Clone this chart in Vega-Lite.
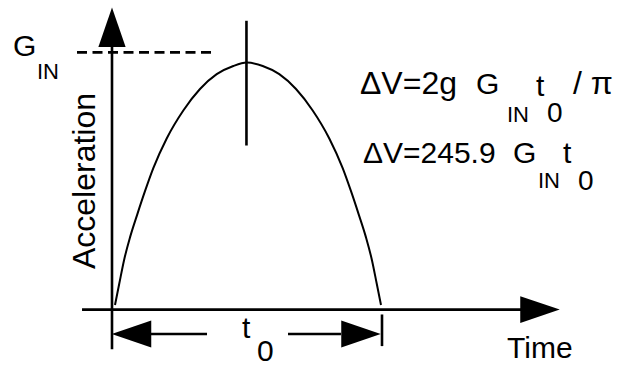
{
  "$schema": "https://vega.github.io/schema/vega-lite/v6.json",
  "width": 628,
  "height": 367,
  "autosize": {"type": "fit", "contains": "padding"},
  "padding": 0,
  "background": "white",
  "config": {"view": {"stroke": null}, "font": "Liberation Sans"},
  "datasets": {
    "curve": [
      {"t": 0.0111, "a": 0.0181},
      {"t": 0.0270, "a": 0.1012},
      {"t": 0.0444, "a": 0.1912},
      {"t": 0.0667, "a": 0.2808},
      {"t": 0.0937, "a": 0.3704},
      {"t": 0.1222, "a": 0.4604},
      {"t": 0.1530, "a": 0.55},
      {"t": 0.2026, "a": 0.6654},
      {"t": 0.2641, "a": 0.7742},
      {"t": 0.3259, "a": 0.8577},
      {"t": 0.3878, "a": 0.9154},
      {"t": 0.4493, "a": 0.9473},
      {"t": 0.4989, "a": 0.9604},
      {"t": 0.5581, "a": 0.9473},
      {"t": 0.6196, "a": 0.9154},
      {"t": 0.6815, "a": 0.8577},
      {"t": 0.7433, "a": 0.7742},
      {"t": 0.8048, "a": 0.6654},
      {"t": 0.8544, "a": 0.55},
      {"t": 0.8852, "a": 0.4604},
      {"t": 0.9137, "a": 0.3704},
      {"t": 0.9407, "a": 0.2808},
      {"t": 0.9630, "a": 0.1912},
      {"t": 0.9804, "a": 0.1012},
      {"t": 0.9963, "a": 0.0181}
    ],
    "rules": [
      {"part": "y axis", "t": 0, "t2": 0, "a": -0.154, "a2": 1.023},
      {"part": "x axis", "t": -0.111, "t2": 1.5185, "a": 0, "a2": 0},
      {"part": "peak marker", "t": 0.498, "t2": 0.498, "a": 0.638, "a2": 1.123},
      {"part": "t0 end tick", "t": 1.0, "t2": 1.0, "a": -0.019, "a2": -0.142},
      {"part": "t0 left", "t": 0.1444, "t2": 0.3519, "a": -0.095, "a2": -0.095},
      {"part": "t0 right", "t": 0.6519, "t2": 0.848, "a": -0.095, "a2": -0.095}
    ],
    "dashed": [
      {"part": "G_IN level", "t": -0.1296, "t2": 0.3815, "a": 1.0, "a2": 1.0}
    ],
    "arrows": [
      {"dir": "up", "t": 0, "a": 1.098},
      {"dir": "right", "t": 1.5852, "a": 0.0},
      {"dir": "left", "t": 0.0722, "a": -0.095},
      {"dir": "right", "t": 0.9222, "a": -0.095}
    ],
    "texts": [
      {"label": "G", "kind": "big", "t": -0.3667, "a": 0.9846},
      {"label": "IN", "kind": "small", "t": -0.2778, "a": 0.8962},
      {"label": "ΔV=2g", "kind": "eq", "t": 0.9185, "a": 0.8385},
      {"label": "G", "kind": "big", "t": 1.3481, "a": 0.8385},
      {"label": "IN", "kind": "small", "t": 1.4630, "a": 0.7308},
      {"label": "t", "kind": "big", "t": 1.5704, "a": 0.8308},
      {"label": "0", "kind": "digit", "t": 1.6111, "a": 0.7308},
      {"label": "/ π", "kind": "eq", "t": 1.7074, "a": 0.8385},
      {"label": "ΔV=245.9", "kind": "big", "t": 0.9296, "a": 0.5692},
      {"label": "G", "kind": "big", "t": 1.4852, "a": 0.5692},
      {"label": "IN", "kind": "small", "t": 1.5778, "a": 0.4731},
      {"label": "t", "kind": "big", "t": 1.6704, "a": 0.5692},
      {"label": "0", "kind": "digit", "t": 1.7259, "a": 0.4654},
      {"label": "t", "kind": "big", "t": 0.4815, "a": -0.1115},
      {"label": "0", "kind": "big", "t": 0.5370, "a": -0.2},
      {"label": "Time", "kind": "big", "t": 1.4630, "a": -0.1885}
    ],
    "ytitle": [
      {"label": "Acceleration", "t": -0.063, "a": 0.5}
    ]
  },
  "layer": [
    {
      "data": {"name": "rules"},
      "mark": {"type": "rule", "color": "black", "strokeWidth": 2.6},
      "encoding": {
        "x": {"field": "t", "type": "quantitative", "scale": {"domain": [-0.4148, 1.9111], "nice": false, "zero": false}, "axis": null},
        "x2": {"field": "t2"},
        "y": {"field": "a", "type": "quantitative", "scale": {"domain": [-0.2077, 1.2038], "nice": false, "zero": false}, "axis": null},
        "y2": {"field": "a2"}
      }
    },
    {
      "data": {"name": "dashed"},
      "mark": {"type": "rule", "color": "black", "strokeWidth": 2.6, "strokeDash": [10, 5.5]},
      "encoding": {
        "x": {"field": "t", "type": "quantitative", "scale": {"domain": [-0.4148, 1.9111], "nice": false, "zero": false}, "axis": null},
        "x2": {"field": "t2"},
        "y": {"field": "a", "type": "quantitative", "scale": {"domain": [-0.2077, 1.2038], "nice": false, "zero": false}, "axis": null},
        "y2": {"field": "a2"}
      }
    },
    {
      "data": {"name": "curve"},
      "mark": {"type": "line", "color": "black", "strokeWidth": 2, "interpolate": "monotone"},
      "encoding": {
        "x": {"field": "t", "type": "quantitative", "scale": {"domain": [-0.4148, 1.9111], "nice": false, "zero": false}, "axis": null},
        "y": {"field": "a", "type": "quantitative", "scale": {"domain": [-0.2077, 1.2038], "nice": false, "zero": false}, "axis": null}
      }
    },
    {
      "data": {"name": "arrows"},
      "mark": {"type": "point", "filled": true, "color": "black", "opacity": 1, "size": 1560, "strokeWidth": 0},
      "encoding": {
        "x": {"field": "t", "type": "quantitative", "scale": {"domain": [-0.4148, 1.9111], "nice": false, "zero": false}, "axis": null},
        "y": {"field": "a", "type": "quantitative", "scale": {"domain": [-0.2077, 1.2038], "nice": false, "zero": false}, "axis": null},
        "shape": {"field": "dir", "type": "nominal", "legend": null,
          "scale": {"domain": ["up", "right", "left"], "range": ["M0,-1L0.69,1L-0.69,1Z", "M1,0L-1,-0.68L-1,0.68Z", "M-1,0L1,-0.68L1,0.68Z"]}}
      }
    },
    {
      "data": {"name": "texts"},
      "mark": {"type": "text", "color": "black", "align": "left", "baseline": "alphabetic", "font": "Liberation Sans"},
      "encoding": {
        "x": {"field": "t", "type": "quantitative", "scale": {"domain": [-0.4148, 1.9111], "nice": false, "zero": false}, "axis": null},
        "y": {"field": "a", "type": "quantitative", "scale": {"domain": [-0.2077, 1.2038], "nice": false, "zero": false}, "axis": null},
        "text": {"field": "label"},
        "size": {"field": "kind", "type": "nominal", "legend": null, "scale": {"type": "ordinal", "domain": ["big", "small", "digit", "eq"], "range": [30, 22, 28, 32]}}
      }
    },
    {
      "data": {"name": "ytitle"},
      "mark": {"type": "text", "color": "black", "align": "center", "baseline": "alphabetic", "angle": 270, "fontSize": 32, "font": "Liberation Sans"},
      "encoding": {
        "x": {"field": "t", "type": "quantitative", "scale": {"domain": [-0.4148, 1.9111], "nice": false, "zero": false}, "axis": null},
        "y": {"field": "a", "type": "quantitative", "scale": {"domain": [-0.2077, 1.2038], "nice": false, "zero": false}, "axis": null},
        "text": {"field": "label"}
      }
    }
  ]
}
